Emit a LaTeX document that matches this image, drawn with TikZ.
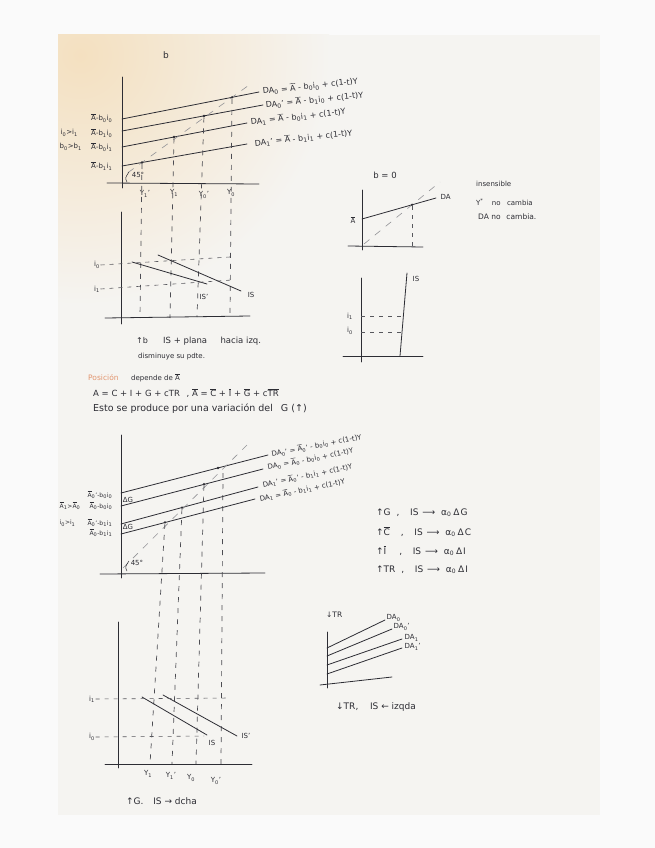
\documentclass[tikz,border=0pt]{standalone}
\usepackage{fontspec}
\setmainfont{DejaVu Sans}
\newcommand\ob[1]{\ensuremath{\overline{\mbox{#1}}}}
\newcommand\sbs[1]{\textsubscript{#1}}
\definecolor{inkc}{RGB}{45,45,52}
\definecolor{paperc}{RGB}{245,244,241}
\definecolor{peach}{RGB}{244,224,192}
\definecolor{bgc}{RGB}{250,250,250}
\definecolor{orangec}{RGB}{226,150,112}
\definecolor{dashc}{RGB}{120,120,125}
\begin{document}
\begin{tikzpicture}[x=1pt,y=-1pt,
  ink/.style={draw=inkc, line width=0.8pt, line cap=round},
  vd/.style={draw=inkc!85, line width=0.7pt, dash pattern=on 5pt off 6pt},
  hd/.style={draw=inkc!80, line width=0.6pt, dash pattern=on 4pt off 5pt},
  g45/.style={draw=dashc!80, line width=0.6pt, dash pattern=on 7pt off 7pt},
  dot/.style={circle, fill=inkc, inner sep=0pt, minimum size=2.6pt},
  lbl/.style={text=inkc, inner sep=0.5pt, font=\fontsize{7}{8}\selectfont},
  eq/.style={text=inkc, inner sep=0.5pt, anchor=west, font=\fontsize{8}{9}\selectfont},
  eqb/.style={text=inkc, inner sep=0.5pt, anchor=west, font=\fontsize{7}{8}\selectfont},
  txt/.style={text=inkc, inner sep=0pt, anchor=west, font=\fontsize{8}{9}\selectfont}]
\useasboundingbox (0,0) rectangle (655,848);
\fill[bgc] (0,0) rectangle (655,848);
\begin{scope}
  \clip (58,35) rectangle (600,815);
  \fill[paperc] (58,35) rectangle (600,815);
  \shade[inner color=peach, outer color=paperc] (80,55) circle (250);
\end{scope}

% ================= graph 1 =================
\node[lbl, font=\fontsize{9}{10}\selectfont] (tb) at (166,55) {b};
\coordinate (g1t) at (122,77); \coordinate (g1b) at (122,188);
\coordinate (g1l) at (107,183); \coordinate (g1r) at (259,184);
\draw[ink] (g1t) -- (g1b); \draw[ink] (g1l) -- (g1r);
\coordinate (d1a) at (122,119); \coordinate (d1b) at (259,92);
\coordinate (d2a) at (122,131); \coordinate (d2b) at (263,105);
\coordinate (d3a) at (122,147); \coordinate (d3b) at (247,123);
\coordinate (d4a) at (122,166); \coordinate (d4b) at (247,144);
\draw[ink] (d1a) -- (d1b); \draw[ink] (d2a) -- (d2b);
\draw[ink] (d3a) -- (d3b); \draw[ink] (d4a) -- (d4b);
\coordinate (f1a) at (128,172.6); \coordinate (f1b) at (248,85.8);
\draw[g45] (f1a) -- (f1b);
\node[dot] (p1) at (142,162.5) {}; \node[dot] (p2) at (174,137) {};
\node[dot] (p3) at (204,116) {};   \node[dot] (p4) at (232,97.3) {};
\coordinate (q1) at (140,318); \coordinate (q2) at (170,318);
\coordinate (q3) at (197,317); \coordinate (q4) at (230,316);
\draw[vd] (p1) -- (q1); \draw[vd] (p2) -- (q2);
\draw[vd] (p3) -- (q3); \draw[vd] (p4) -- (q4);
\node[eq, rotate=6] (e1) at (262,91) {DA\sbs{0} = \ob{A} - b\sbs{0}i\sbs{0} + c(1-t)Y};
\node[eq, rotate=6] (e2) at (265,105) {DA\sbs{0}' = \ob{A} - b\sbs{1}i\sbs{0} + c(1-t)Y};
\node[eq, rotate=6.5] (e3) at (250,122) {DA\sbs{1} = \ob{A} - b\sbs{0}i\sbs{1} + c(1-t)Y};
\node[eq, rotate=6] (e4) at (254,143) {DA\sbs{1}' = \ob{A} - b\sbs{1}i\sbs{1} + c(1-t)Y};
\node[lbl, anchor=east] (l1) at (113,118) {\ob{A}-b\sbs{0}i\sbs{0}};
\node[lbl, anchor=east] (l2) at (113,133) {\ob{A}-b\sbs{1}i\sbs{0}};
\node[lbl, anchor=west] (l2b) at (60,133) {i\sbs{0}>i\sbs{1}};
\node[lbl, anchor=east] (l3) at (113,147) {\ob{A}-b\sbs{0}i\sbs{1}};
\node[lbl, anchor=west] (l3b) at (59,147) {b\sbs{0}>b\sbs{1}};
\node[lbl, anchor=east] (l4) at (113,166) {\ob{A}-b\sbs{1}i\sbs{1}};
\node[lbl] (a45a) at (138,175) {45°};
\draw[inkc, line width=0.5pt] (127,182) .. controls (125,178) .. (129,172);
\node[lbl] (y1a) at (145,194) {Y\sbs{1}'};
\node[lbl] (y1b) at (174,193) {Y\sbs{1}};
\node[lbl] (y1c) at (204,195) {Y\sbs{0}'};
\node[lbl] (y1d) at (231,193) {Y\sbs{0}};

% ================= graph 2 =================
\coordinate (g2t) at (121,212); \coordinate (g2b) at (121,324);
\coordinate (g2l) at (105,318); \coordinate (g2r) at (250,316);
\draw[ink] (g2t) -- (g2b); \draw[ink] (g2l) -- (g2r);
\coordinate (s1a) at (132,262); \coordinate (s1b) at (207,284);
\coordinate (s2a) at (158,255); \coordinate (s2b) at (241,291);
\draw[ink] (s1a) -- (s1b); \draw[ink] (s2a) -- (s2b);
\node[lbl] (i2a) at (97,265) {i\sbs{0}};
\node[lbl] (i2b) at (97,289) {i\sbs{1}};
\coordinate (h2a) at (230,257);
\coordinate (h2b) at (232,280);
\draw[hd] (i2a.east) -- (h2a);
\draw[hd] (i2b.east) -- (h2b);
\node[lbl] (is2a) at (204,297) {IS'};
\node[lbl] (is2b) at (251,295) {IS};
\node[txt] (t2a) at (136,341) {↑b};
\node[txt, font=\fontsize{8.5}{9}\selectfont] (t2b) at (163,341) {IS + plana \hspace{8pt} hacia izq.};
\node[txt, font=\fontsize{7}{8}\selectfont] (t2c) at (138,357) {disminuye su pdte.};

% ================= graph 3 (b = 0) =================
\node[lbl, font=\fontsize{8.5}{9}\selectfont] (b0) at (385,175) {b = 0};
\coordinate (g3t) at (362,190); \coordinate (g3b) at (362,250);
\coordinate (g3l) at (348,246); \coordinate (g3r) at (423,247);
\draw[ink] (g3t) -- (g3b); \draw[ink] (g3l) -- (g3r);
\coordinate (u1) at (362,219); \coordinate (u2) at (436,198);
\draw[ink] (u1) -- (u2);
\node[lbl, anchor=west] (da3) at (440,197) {DA};
\coordinate (f3a) at (364,244); \coordinate (f3b) at (440,182);
\draw[g45] (f3a) -- (f3b);
\node[dot] (p5) at (412,204.8) {};
\coordinate (q5) at (412,246);
\draw[hd] (p5) -- (q5);
\node[lbl] (abar3) at (353,220) {\ob{A}};
\node[txt, font=\fontsize{7}{8}\selectfont] (n3a) at (476,184) {insensible};
\node[txt, font=\fontsize{7}{8}\selectfont] (n3b) at (476,202) {Y\textsuperscript{*} \hspace{4pt} no \hspace{2pt} cambia};
\node[txt, font=\fontsize{7.5}{8}\selectfont] (n3c) at (478,217) {DA no \hspace{1pt} cambia.};

% ================= graph 4 =================
\coordinate (g4t) at (361,278); \coordinate (g4b) at (361,362);
\coordinate (g4l) at (343,356); \coordinate (g4r) at (423,356);
\draw[ink] (g4t) -- (g4b); \draw[ink] (g4l) -- (g4r);
\coordinate (v1) at (400,356); \coordinate (v2) at (407,273);
\draw[ink] (v1) -- (v2);
\node[lbl, anchor=west] (is4) at (412,279) {IS};
\node[lbl] (i4a) at (350,316) {i\sbs{1}};
\node[lbl] (i4b) at (350,331) {i\sbs{0}};
\coordinate (h4a) at (403,316); \coordinate (h4b) at (402,332);
\draw[hd] (361,316) -- (h4a);
\draw[hd] (361,332) -- (h4b);

% ================= middle text =================
\node[txt, text=orangec, font=\fontsize{7.5}{8}\selectfont] (m1) at (88,378) {Posición};
\node[txt, font=\fontsize{7}{8}\selectfont] (m1b) at (131,378) {depende de \ob{A}};
\node[txt, font=\fontsize{8.5}{9}\selectfont] (m2) at (93,393) {A = C + I + G + cTR \hspace{4pt}, \ob{A} = \ob{C} + \ob{I} + \ob{G} + c\ob{TR}};
\node[txt, font=\fontsize{9.5}{10}\selectfont] (m3) at (93,409) {Esto se produce por una variación del \hspace{2pt} G (↑)};

% ================= graph 5 =================
\coordinate (g5t) at (121,435); \coordinate (g5b) at (121,578);
\coordinate (g5l) at (100,574); \coordinate (g5r) at (265,573);
\draw[ink] (g5t) -- (g5b); \draw[ink] (g5l) -- (g5r);
\coordinate (k1a) at (121,493); \coordinate (k1b) at (268,455);
\coordinate (k2a) at (121,506); \coordinate (k2b) at (263,469);
\coordinate (k3a) at (121,524); \coordinate (k3b) at (258,487);
\coordinate (k4a) at (121,534); \coordinate (k4b) at (255,499);
\draw[ink] (k1a) -- (k1b); \draw[ink] (k2a) -- (k2b);
\draw[ink] (k3a) -- (k3b); \draw[ink] (k4a) -- (k4b);
\coordinate (f5a) at (123,568); \coordinate (f5b) at (247,445);
\draw[g45] (f5a) -- (f5b);
\node[dot] (r1) at (165,522.3) {}; \node[dot] (r2) at (182,507.6) {};
\node[dot] (r3) at (204,484.2) {}; \node[dot] (r4) at (218,468) {};
\coordinate (w1) at (150,764); \coordinate (w2) at (172,764);
\coordinate (w3) at (196,764); \coordinate (w4) at (221,764);
\coordinate (r4b) at (223,473);
\draw[vd] (r1) -- (w1); \draw[vd] (r2) -- (w2);
\draw[vd] (r3) -- (w3); \draw[vd] (r4b) -- (w4);
\node[eqb, rotate=11] (e5) at (271,454) {DA\sbs{0}' = \ob{A}\sbs{0}' - b\sbs{0}i\sbs{0} + c(1-t)Y};
\node[eqb, rotate=11] (e6) at (267,467) {DA\sbs{0} = \ob{A}\sbs{0} - b\sbs{0}i\sbs{0} + c(1-t)Y};
\node[eqb, rotate=12] (e7) at (262,485) {DA\sbs{1}' = \ob{A}\sbs{0}' - b\sbs{1}i\sbs{1} + c(1-t)Y};
\node[eqb, rotate=12] (e8) at (259,499) {DA\sbs{1} = \ob{A}\sbs{0} - b\sbs{1}i\sbs{1} + c(1-t)Y};
\node[lbl] (dg1) at (128,500) {ΔG};
\node[lbl] (dg2) at (128,527) {ΔG};
\node[lbl, anchor=east, font=\fontsize{6}{7}\selectfont] (m5a) at (113,495) {\ob{A}\sbs{0}'-b\sbs{0}i\sbs{0}};
\node[lbl, anchor=east, font=\fontsize{6}{7}\selectfont] (m5b) at (113,506) {\ob{A}\sbs{0}-b\sbs{0}i\sbs{0}};
\node[lbl, anchor=west, font=\fontsize{6}{7}\selectfont] (m5c) at (59,506) {\ob{A}\sbs{1}>\ob{A}\sbs{0}};
\node[lbl, anchor=east, font=\fontsize{6}{7}\selectfont] (m5d) at (113,523) {\ob{A}\sbs{0}'-b\sbs{1}i\sbs{1}};
\node[lbl, anchor=west, font=\fontsize{6}{7}\selectfont] (m5e) at (59,523) {i\sbs{0}>i\sbs{1}};
\node[lbl, anchor=east, font=\fontsize{6}{7}\selectfont] (m5f) at (113,533) {\ob{A}\sbs{0}-b\sbs{1}i\sbs{1}};
\node[lbl] (a45b) at (137,563) {45°};
\draw[inkc, line width=0.5pt] (127,571) .. controls (125,567) .. (129,561);

% ================= graph 6 =================
\coordinate (g6t) at (118,622); \coordinate (g6b) at (118,768);
\coordinate (g6l) at (105,764); \coordinate (g6r) at (252,764);
\draw[ink] (g6t) -- (g6b); \draw[ink] (g6l) -- (g6r);
\coordinate (z1a) at (142,697); \coordinate (z1b) at (207,735);
\coordinate (z2a) at (163,695); \coordinate (z2b) at (237,736);
\draw[ink] (z1a) -- (z1b); \draw[ink] (z2a) -- (z2b);
\node[lbl] (is6a) at (212,743) {IS};
\node[lbl] (is6b) at (246,736) {IS'};
\node[lbl] (i6a) at (92,699) {i\sbs{1}};
\node[lbl] (i6b) at (92,737) {i\sbs{0}};
\coordinate (h6a) at (230,698); \coordinate (h6b) at (204,736);
\draw[hd] (i6a.east) -- (h6a);
\draw[hd] (i6b.east) -- (h6b);
\node[lbl] (y6a) at (148,774) {Y\sbs{1}};
\node[lbl] (y6b) at (171,776) {Y\sbs{1}'};
\node[lbl] (y6c) at (191,778) {Y\sbs{0}};
\node[lbl] (y6d) at (216,781) {Y\sbs{0}'};
\node[txt, font=\fontsize{9}{10}\selectfont] (t6) at (126,801) {↑G. \hspace{4pt} IS → dcha};

% ================= right formulas =================
\node[txt, font=\fontsize{9}{10}\selectfont] (r1t) at (376,513) {↑G \hspace{3pt}, \hspace{5pt} IS \hspace{1pt}⟶\hspace{3pt} α\sbs{0}\hspace{2pt}Δ\hspace{1pt}G};
\node[txt, font=\fontsize{9}{10}\selectfont] (r2t) at (376,532) {↑\ob{C} \hspace{8pt}, \hspace{5pt} IS \hspace{1pt}⟶\hspace{3pt} α\sbs{0}\hspace{2pt}Δ\hspace{1pt}C};
\node[txt, font=\fontsize{9}{10}\selectfont] (r3t) at (376,551) {↑\ob{I} \hspace{10pt}, \hspace{5pt} IS \hspace{1pt}⟶\hspace{3pt} α\sbs{0}\hspace{2pt}Δ\hspace{1pt}I};
\node[txt, font=\fontsize{9}{10}\selectfont] (r4t) at (376,570) {↑TR \hspace{3pt}, \hspace{5pt} IS \hspace{1pt}⟶\hspace{3pt} α\sbs{0}\hspace{2pt}Δ\hspace{1pt}I};

% ================= graph 7 (TR) =================
\node[txt, font=\fontsize{7.5}{8}\selectfont] (tr) at (326,615) {↓TR};
\coordinate (g7t) at (327,632); \coordinate (g7b) at (327,688);
\coordinate (g7l) at (320,685); \coordinate (g7r) at (392,677);
\draw[ink] (g7t) -- (g7b); \draw[ink] (g7l) -- (g7r);
\coordinate (c1a) at (327,648); \coordinate (c1b) at (385,620);
\coordinate (c2a) at (327,656); \coordinate (c2b) at (392,629);
\coordinate (c3a) at (327,665); \coordinate (c3b) at (402,639);
\coordinate (c4a) at (327,674); \coordinate (c4b) at (402,648);
\draw[ink] (c1a) -- (c1b); \draw[ink] (c2a) -- (c2b);
\draw[ink] (c3a) -- (c3b); \draw[ink] (c4a) -- (c4b);
\node[lbl, anchor=west] (c1l) at (386,618) {DA\sbs{0}};
\node[lbl, anchor=west] (c2l) at (393,627) {DA\sbs{0}'};
\node[lbl, anchor=west] (c3l) at (404,638) {DA\sbs{1}};
\node[lbl, anchor=west] (c4l) at (404,647) {DA\sbs{1}'};
\node[txt, font=\fontsize{9}{10}\selectfont] (t7) at (336,707) {↓TR, \hspace{6pt} IS ← izqda};
\end{tikzpicture}
\end{document}
